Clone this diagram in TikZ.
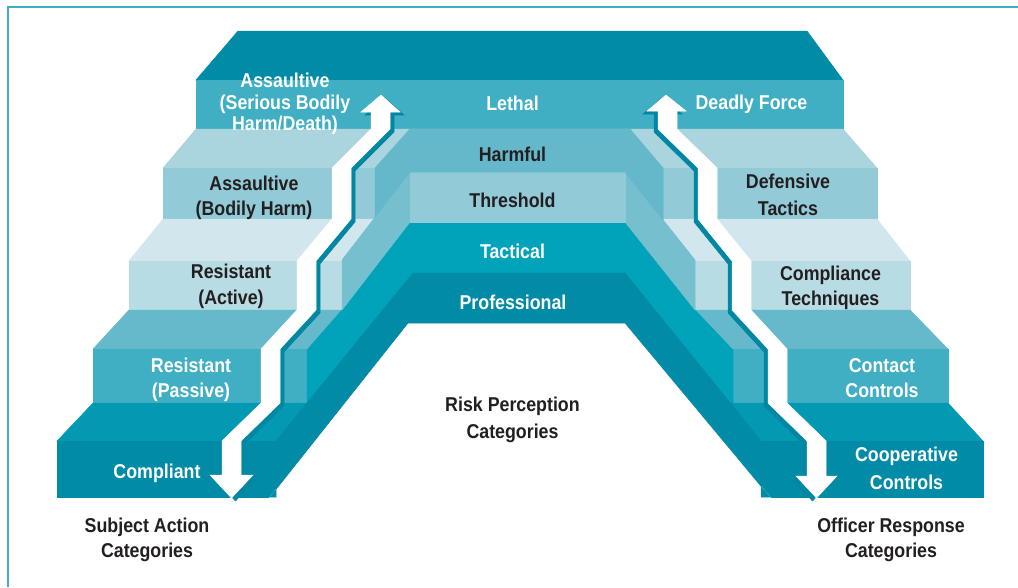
\documentclass[tikz,border=0pt]{standalone}
\usepackage{fontspec}
\setmainfont{Liberation Sans}[FakeStretch=0.89]
\definecolor{topdark}{HTML}{028BA6}
\definecolor{dark}{HTML}{028BA6}
\definecolor{faceA}{HTML}{41AFC3}
\definecolor{treadB}{HTML}{AAD5DF}
\definecolor{faceB}{HTML}{92CAD8}
\definecolor{treadC}{HTML}{D2E7ED}
\definecolor{faceC}{HTML}{B8DCE4}
\definecolor{treadD}{HTML}{66B9CB}
\definecolor{faceD}{HTML}{41AFC3}
\definecolor{treadE}{HTML}{0499B3}
\definecolor{harmful}{HTML}{64B8CA}
\definecolor{thrslope}{HTML}{75BFCF}
\definecolor{tactical}{HTML}{00A3B9}
\definecolor{shadowc}{HTML}{0287A3}
\definecolor{framec}{HTML}{3FADC5}
\definecolor{txtdark}{HTML}{231F20}
\begin{document}
\begin{tikzpicture}[x=1pt,y=-1pt,
  pc/.style={fill=#1,draw=#1,line width=0.5pt},
  lbl/.style={font=\fontsize{20}{24}\selectfont\bfseries,inner sep=0pt,anchor=base},
  wl/.style={lbl,text=white},
  dl/.style={lbl,text=txtdark}]
\useasboundingbox (0,0) rectangle (1018,587);
% frame
\draw[framec,line width=1.5pt] (8,587) -- (8,7) -- (1018,7);
% stair levels (full width)
\path[pc=topdark] (238,31) -- (807,31) -- (843,80) -- (196,80) -- cycle;
\path[pc=faceA] (196,80) rectangle (843,129);
\path[pc=treadB] (196,129) -- (843,129) -- (877,168) -- (163,168) -- cycle;
\path[pc=faceB] (163,168) rectangle (877,219);
\path[pc=treadC] (163,219) -- (877,219) -- (910,261) -- (129,261) -- cycle;
\path[pc=faceC] (129,261) rectangle (910,310);
\path[pc=treadD] (129,310) -- (910,310) -- (948,349) -- (93,349) -- cycle;
\path[pc=faceD] (93,349) rectangle (948,403);
\path[pc=treadE] (93,403) -- (948,403) -- (983,441) -- (57,441) -- cycle;
\path[pc=dark] (57,441) rectangle (983,497);
% centre: risk perception block
\path[pc=tactical] (410,222) -- (625,222) -- (695,310) -- (733,350) -- (733,403) -- (307,403) -- (307,350) -- (342,310) -- cycle;
\path[pc=thrslope] (410,172) -- (342,260) -- (342,310) -- (410,222) -- cycle;
\path[pc=thrslope] (625,172) -- (695,260) -- (695,310) -- (625,222) -- cycle;
\path[pc=faceB] (410,172) rectangle (625,222);
\path[pc=harmful] (410,129) -- (630,129) -- (663,168) -- (663,220) -- (625,172) -- (410,172) -- (375,217) -- (375,168) -- cycle;
\path[pc=white] (408,323) -- (625,323) -- (771.7,499) -- (268.4,499) -- cycle;
\path[pc=dark] (276,441) -- (413,273) -- (625,273) -- (761,441) -- (761,497) -- (770,497) -- (625,323) -- (408,323) -- (270,497) -- (276,497) -- cycle;
% left arrow (up)
\path[pc=shadowc,shift={(4,3)}] (381,95) -- (400,112) -- (390,112) -- (390,129) -- (351,168) -- (351,219) -- (316,261) -- (316,310) -- (280,349) -- (280,403) -- (241,441) -- (241,475) -- (253,475) -- (231.5,498) -- (210,475) -- (222,475) -- (222,441) -- (261,403) -- (261,349) -- (297,310) -- (297,261) -- (332,219) -- (332,168) -- (371,129) -- (371,112) -- (361,112) -- cycle;
\path[pc=white] (381,95) -- (400,112) -- (390,112) -- (390,129) -- (351,168) -- (351,219) -- (316,261) -- (316,310) -- (280,349) -- (280,403) -- (241,441) -- (241,475) -- (253,475) -- (231.5,498) -- (210,475) -- (222,475) -- (222,441) -- (261,403) -- (261,349) -- (297,310) -- (297,261) -- (332,219) -- (332,168) -- (371,129) -- (371,112) -- (361,112) -- cycle;
% right arrow
\path[pc=shadowc,shift={(-4,3)}] (666,95) -- (686,111) -- (677,111) -- (677,129) -- (717,168) -- (717,219) -- (751,261) -- (751,310) -- (787,349) -- (787,403) -- (826,441) -- (826,476) -- (837,476) -- (816.5,498) -- (796,476) -- (807,476) -- (807,441) -- (768,403) -- (768,349) -- (732,310) -- (732,261) -- (698,219) -- (698,168) -- (658,129) -- (658,111) -- (647,111) -- cycle;
\path[pc=white] (666,95) -- (686,111) -- (677,111) -- (677,129) -- (717,168) -- (717,219) -- (751,261) -- (751,310) -- (787,349) -- (787,403) -- (826,441) -- (826,476) -- (837,476) -- (816.5,498) -- (796,476) -- (807,476) -- (807,441) -- (768,403) -- (768,349) -- (732,310) -- (732,261) -- (698,219) -- (698,168) -- (658,129) -- (658,111) -- (647,111) -- cycle;
% labels: subject action
\node[wl] (sa1a) at (285,87.5) {Assaultive};
\node[wl] (sa1b) at (285,109) {(Serious Bodily};
\node[wl] (sa1c) at (285,130) {Harm/Death)};
\node[dl] (sa2a) at (254,190) {Assaultive};
\node[dl] (sa2b) at (254,215) {(Bodily Harm)};
\node[dl] (sa3a) at (231,278) {Resistant};
\node[dl] (sa3b) at (231,304) {(Active)};
\node[wl] (sa4a) at (191,372) {Resistant};
\node[wl] (sa4b) at (191,397.5) {(Passive)};
\node[wl] (sa5) at (157,478) {Compliant};
\node[dl] (sat1) at (147,532) {Subject Action};
\node[dl] (sat2) at (147,557.5) {Categories};
% risk perception
\node[wl] (rp1) at (512.5,110.5) {Lethal};
\node[dl] (rp2) at (512.5,161.5) {Harmful};
\node[dl] (rp3) at (512.5,207) {Threshold};
\node[wl] (rp4) at (512.5,258) {Tactical};
\node[wl] (rp5) at (513,309) {Professional};
\node[dl] (rpt1) at (512.5,411.5) {Risk Perception};
\node[dl] (rpt2) at (512.5,438) {Categories};
% officer response
\node[wl] (or1) at (751.5,109) {Deadly Force};
\node[dl] (or2a) at (788,188) {Defensive};
\node[dl] (or2b) at (788,215) {Tactics};
\node[dl] (or3a) at (830.5,280) {Compliance};
\node[dl] (or3b) at (830.5,305) {Techniques};
\node[wl] (or4a) at (882,372) {Contact};
\node[wl] (or4b) at (882,397.5) {Controls};
\node[wl] (or5a) at (906.5,461.5) {Cooperative};
\node[wl] (or5b) at (906.5,489) {Controls};
\node[dl] (ort1) at (891,532) {Officer Response};
\node[dl] (ort2) at (891,557.5) {Categories};
\end{tikzpicture}
\end{document}
